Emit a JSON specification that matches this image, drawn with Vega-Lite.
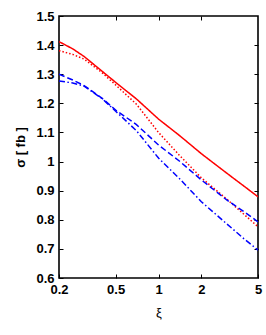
{
  "$schema": "https://vega.github.io/schema/vega-lite/v6.json",
  "width": 199,
  "height": 262,
  "autosize": {"type": "none"},
  "padding": {"left": 59, "top": 16, "right": 8, "bottom": 57},
  "background": "white",
  "config": {
    "view": {"stroke": "black", "strokeWidth": 1.6},
    "font": "Liberation Sans"
  },
  "data": {
    "values": [
      {"xi": 0.2, "sigma": 1.412, "s": "a"},
      {"xi": 0.25, "sigma": 1.387, "s": "a"},
      {"xi": 0.3, "sigma": 1.361, "s": "a"},
      {"xi": 0.4, "sigma": 1.311, "s": "a"},
      {"xi": 0.5, "sigma": 1.272, "s": "a"},
      {"xi": 0.7, "sigma": 1.215, "s": "a"},
      {"xi": 1.0, "sigma": 1.146, "s": "a"},
      {"xi": 1.4, "sigma": 1.090, "s": "a"},
      {"xi": 2.0, "sigma": 1.027, "s": "a"},
      {"xi": 3.0, "sigma": 0.961, "s": "a"},
      {"xi": 4.0, "sigma": 0.915, "s": "a"},
      {"xi": 5.0, "sigma": 0.879, "s": "a"},
      {"xi": 0.2, "sigma": 1.381, "s": "b"},
      {"xi": 0.25, "sigma": 1.368, "s": "b"},
      {"xi": 0.3, "sigma": 1.352, "s": "b"},
      {"xi": 0.4, "sigma": 1.306, "s": "b"},
      {"xi": 0.5, "sigma": 1.263, "s": "b"},
      {"xi": 0.7, "sigma": 1.197, "s": "b"},
      {"xi": 1.0, "sigma": 1.100, "s": "b"},
      {"xi": 1.4, "sigma": 1.022, "s": "b"},
      {"xi": 2.0, "sigma": 0.944, "s": "b"},
      {"xi": 3.0, "sigma": 0.872, "s": "b"},
      {"xi": 4.0, "sigma": 0.818, "s": "b"},
      {"xi": 5.0, "sigma": 0.776, "s": "b"},
      {"xi": 0.2, "sigma": 1.300, "s": "c"},
      {"xi": 0.25, "sigma": 1.280, "s": "c"},
      {"xi": 0.3, "sigma": 1.261, "s": "c"},
      {"xi": 0.4, "sigma": 1.218, "s": "c"},
      {"xi": 0.5, "sigma": 1.177, "s": "c"},
      {"xi": 0.7, "sigma": 1.127, "s": "c"},
      {"xi": 1.0, "sigma": 1.057, "s": "c"},
      {"xi": 1.4, "sigma": 1.002, "s": "c"},
      {"xi": 2.0, "sigma": 0.937, "s": "c"},
      {"xi": 3.0, "sigma": 0.869, "s": "c"},
      {"xi": 4.0, "sigma": 0.827, "s": "c"},
      {"xi": 5.0, "sigma": 0.793, "s": "c"},
      {"xi": 0.2, "sigma": 1.277, "s": "d"},
      {"xi": 0.25, "sigma": 1.270, "s": "d"},
      {"xi": 0.3, "sigma": 1.259, "s": "d"},
      {"xi": 0.4, "sigma": 1.217, "s": "d"},
      {"xi": 0.5, "sigma": 1.173, "s": "d"},
      {"xi": 0.7, "sigma": 1.106, "s": "d"},
      {"xi": 1.0, "sigma": 1.012, "s": "d"},
      {"xi": 1.4, "sigma": 0.942, "s": "d"},
      {"xi": 2.0, "sigma": 0.862, "s": "d"},
      {"xi": 3.0, "sigma": 0.787, "s": "d"},
      {"xi": 4.0, "sigma": 0.734, "s": "d"},
      {"xi": 5.0, "sigma": 0.696, "s": "d"}
    ]
  },
  "resolve": {"axis": {"x": "independent", "y": "independent"}},
  "layer": [
    {
      "mark": {"type": "line", "strokeWidth": 1.5, "interpolate": "linear", "clip": true},
      "encoding": {
        "x": {
          "field": "xi", "type": "quantitative",
          "scale": {"type": "log", "domain": [0.2, 5], "nice": false},
          "axis": {
            "values": [0.2, 0.5, 1, 2, 5], "format": "~g", "grid": false, "domain": false,
            "tickSize": -4, "tickColor": "black", "tickWidth": 1,
            "labelFlush": false, "labelBound": false, "labelOverlap": false,
            "labelPadding": 9, "labelFontSize": 13, "labelFontWeight": "bold", "labelColor": "black",
            "title": "ξ", "titleFontSize": 13, "titleFontWeight": "normal", "titleColor": "black", "titlePadding": 10
          }
        },
        "y": {
          "field": "sigma", "type": "quantitative",
          "scale": {"domain": [0.6, 1.5], "nice": false, "zero": false},
          "axis": {
            "values": [0.6, 0.7, 0.8, 0.9, 1.0, 1.1, 1.2, 1.3, 1.4, 1.5], "format": "~g", "grid": false, "domain": false,
            "tickSize": -4, "tickColor": "black", "tickWidth": 1,
            "labelFlush": false, "labelBound": false, "labelOverlap": false,
            "labelPadding": 9, "labelFontSize": 13, "labelFontWeight": "bold", "labelColor": "black",
            "title": "σ [ fb ]", "titleFontSize": 13, "titleFontWeight": "bold", "titleColor": "black", "titlePadding": 8
          }
        },
        "color": {
          "field": "s", "type": "nominal",
          "scale": {"domain": ["a", "b", "c", "d"], "range": ["#ff0000", "#ff0000", "#0000ff", "#0000ff"]},
          "legend": null
        },
        "strokeDash": {
          "field": "s", "type": "nominal",
          "scale": {"domain": ["a", "b", "c", "d"], "range": [[1, 0], [1.5, 2], [6, 3], [6, 2.5, 1.5, 2.5]]},
          "legend": null
        }
      }
    },
    {
      "mark": {"type": "point", "opacity": 0},
      "encoding": {
        "x": {
          "field": "xi", "type": "quantitative",
          "scale": {"type": "log", "domain": [0.2, 5], "nice": false},
          "axis": {"orient": "top", "values": [0.5, 1, 2], "labels": false, "title": null, "grid": false, "domain": false, "tickSize": -4, "tickColor": "black"}
        },
        "y": {
          "field": "sigma", "type": "quantitative",
          "scale": {"domain": [0.6, 1.5], "nice": false, "zero": false},
          "axis": {"orient": "right", "values": [0.7, 0.8, 0.9, 1.0, 1.1, 1.2, 1.3, 1.4], "labels": false, "title": null, "grid": false, "domain": false, "tickSize": -4, "tickColor": "black"}
        }
      }
    }
  ]
}
